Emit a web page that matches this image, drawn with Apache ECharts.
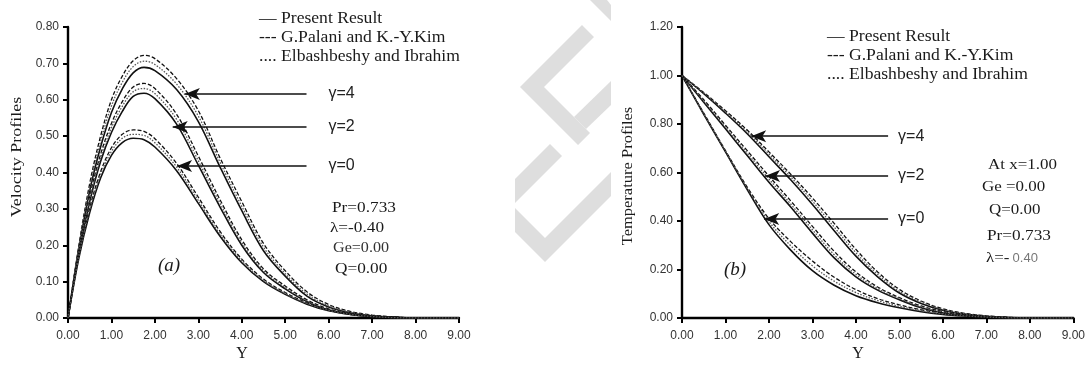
<!DOCTYPE html>
<html>
<head>
<meta charset="utf-8">
<script src="https://cdn.jsdelivr.net/npm/echarts@6/dist/echarts.min.js"></script>
<style>
  html, body { margin: 0; padding: 0; background: #ffffff; }
  #chart { width: 1088px; height: 367px; }
</style>
</head>
<body>
<div id="chart"></div>
<script>
// ---- (a) velocity profiles: Y grid and values per gamma ----
const velX = [0, 0.25, 0.5, 0.75, 1, 1.25, 1.5, 1.75, 2, 2.5, 3, 3.5, 4, 4.5, 5, 5.5, 6, 6.5, 7, 7.5, 8, 9];
const velPresent4 = [0, 0.19, 0.35, 0.47, 0.565, 0.63, 0.674, 0.689, 0.68, 0.628, 0.54, 0.415, 0.295, 0.185, 0.115, 0.06, 0.03, 0.014, 0.006, 0.002, 0, 0];
const velPalani4  = [0, 0.2, 0.37, 0.5, 0.6, 0.665, 0.707, 0.722, 0.713, 0.658, 0.57, 0.44, 0.32, 0.205, 0.13, 0.072, 0.037, 0.018, 0.008, 0.003, 0, 0];
const velElbash4  = [0, 0.195, 0.36, 0.485, 0.583, 0.648, 0.691, 0.706, 0.697, 0.643, 0.555, 0.428, 0.307, 0.195, 0.122, 0.066, 0.033, 0.016, 0.007, 0.002, 0, 0];
const velPresent2 = [0, 0.18, 0.32, 0.43, 0.51, 0.568, 0.609, 0.618, 0.603, 0.533, 0.42, 0.305, 0.2, 0.125, 0.08, 0.045, 0.022, 0.01, 0.004, 0.001, 0, 0];
const velPalani2  = [0, 0.19, 0.335, 0.45, 0.535, 0.595, 0.635, 0.645, 0.631, 0.56, 0.445, 0.325, 0.215, 0.135, 0.088, 0.05, 0.025, 0.012, 0.005, 0.002, 0, 0];
const velElbash2  = [0, 0.185, 0.328, 0.44, 0.523, 0.582, 0.622, 0.631, 0.617, 0.546, 0.432, 0.315, 0.207, 0.13, 0.084, 0.047, 0.023, 0.011, 0.004, 0.001, 0, 0];
const velPresent0 = [0, 0.165, 0.29, 0.385, 0.447, 0.482, 0.494, 0.49, 0.47, 0.405, 0.315, 0.225, 0.152, 0.1, 0.065, 0.038, 0.02, 0.01, 0.004, 0.001, 0, 0];
const velPalani0  = [0, 0.172, 0.303, 0.402, 0.468, 0.505, 0.517, 0.513, 0.493, 0.425, 0.332, 0.238, 0.162, 0.107, 0.07, 0.042, 0.022, 0.011, 0.005, 0.002, 0, 0];
const velElbash0  = [0, 0.168, 0.297, 0.394, 0.458, 0.494, 0.505, 0.502, 0.482, 0.415, 0.323, 0.231, 0.157, 0.103, 0.067, 0.04, 0.021, 0.01, 0.004, 0.001, 0, 0];

// ---- (b) temperature profiles ----
const tempX = [0, 0.5, 1, 1.5, 2, 2.5, 3, 3.5, 4, 4.5, 5, 5.5, 6, 6.5, 7, 7.5, 8, 9];
const tempPresent4 = [1, 0.925, 0.845, 0.76, 0.665, 0.57, 0.468, 0.36, 0.255, 0.17, 0.103, 0.06, 0.032, 0.016, 0.007, 0.002, 0, 0];
const tempPalani4  = [1, 0.93, 0.855, 0.775, 0.685, 0.593, 0.495, 0.39, 0.283, 0.19, 0.118, 0.07, 0.038, 0.019, 0.009, 0.003, 0, 0];
const tempElbash4  = [1, 0.928, 0.85, 0.768, 0.676, 0.582, 0.482, 0.375, 0.269, 0.18, 0.11, 0.065, 0.035, 0.017, 0.008, 0.002, 0, 0];
const tempPresent2 = [1, 0.89, 0.78, 0.67, 0.56, 0.458, 0.35, 0.248, 0.17, 0.115, 0.075, 0.042, 0.022, 0.01, 0.004, 0.001, 0, 0];
const tempPalani2  = [1, 0.9, 0.795, 0.69, 0.585, 0.483, 0.378, 0.275, 0.19, 0.128, 0.084, 0.05, 0.027, 0.013, 0.006, 0.002, 0, 0];
const tempElbash2  = [1, 0.895, 0.788, 0.68, 0.573, 0.47, 0.364, 0.261, 0.18, 0.121, 0.079, 0.046, 0.024, 0.011, 0.005, 0.001, 0, 0];
const tempPresent0 = [1, 0.84, 0.685, 0.53, 0.385, 0.28, 0.195, 0.135, 0.092, 0.063, 0.042, 0.026, 0.015, 0.008, 0.003, 0.001, 0, 0];
const tempPalani0  = [1, 0.845, 0.69, 0.54, 0.41, 0.315, 0.235, 0.168, 0.117, 0.08, 0.054, 0.034, 0.02, 0.011, 0.005, 0.002, 0, 0];
const tempElbash0  = [1, 0.842, 0.688, 0.535, 0.398, 0.298, 0.215, 0.152, 0.105, 0.072, 0.048, 0.03, 0.017, 0.009, 0.004, 0.001, 0, 0];

// axis ranges / tick steps
const xTicks = { min: 0, max: 9, interval: 1 };
const velTicks = { min: 0, max: 0.8, interval: 0.1 };
const tempTicks = { min: 0, max: 1.2, interval: 0.2 };

// gamma call-outs: arrow from the label side to the curve bundle (data coords)
const velCallouts = [
  { name: 'γ=4', from: [5.49, 0.616], to: [2.69, 0.616] },
  { name: 'γ=2', from: [5.49, 0.525], to: [2.41, 0.525] },
  { name: 'γ=0', from: [5.49, 0.418], to: [2.51, 0.418] }
];
const tempCallouts = [
  { name: 'γ=4', from: [4.74, 0.75], to: [1.59, 0.75] },
  { name: 'γ=2', from: [4.74, 0.586], to: [1.91, 0.586] },
  { name: 'γ=0', from: [4.74, 0.408], to: [1.89, 0.408] }
];

const legendLines = ['— Present Result', '--- G.Palani and K.-Y.Kim', '.... Elbashbeshy and Ibrahim'];

const SERIF = '"Liberation Serif", "Times New Roman", serif';
const SANS = '"Liberation Sans", Arial, sans-serif';

const styles = {
  present: { color: '#111', width: 1.6, type: 'solid' },
  palani:  { color: '#111', width: 1.3, type: [4, 2] },
  elbash:  { color: '#555', width: 1.3, type: [1.5, 1.5] }
};

function pairs(xs, ys) { return xs.map((x, i) => [x, ys[i]]); }

function lineSeries(name, xi, xs, ys, st) {
  return {
    name, type: 'line', xAxisIndex: xi, yAxisIndex: xi,
    data: pairs(xs, ys), smooth: 0.35, showSymbol: false, symbol: 'none',
    lineStyle: { color: st.color, width: st.width, type: st.type },
    silent: true, z: 3
  };
}

function callouts(list, dist) {
  return {
    silent: true, symbol: ['none', 'arrow'], symbolSize: [9, 15],
    animation: false,
    lineStyle: { color: '#111', width: 1.6, type: 'solid' },
    label: { show: true, position: 'start', distance: dist, formatter: '{b}',
             fontFamily: SANS, fontSize: 16, color: '#222' },
    data: list.map(c => [{ name: c.name, coord: c.from }, { coord: c.to }])
  };
}

function xAxis(gi) {
  return {
    type: 'value', gridIndex: gi, min: xTicks.min, max: xTicks.max, interval: xTicks.interval,
    axisLine: { show: true, onZero: false, lineStyle: { color: '#000', width: 2.4 } },
    axisTick: { show: true, inside: false, length: 5, lineStyle: { color: '#000', width: 2 } },
    axisLabel: { margin: 12, fontFamily: SANS, fontSize: 12, color: '#333',
                 formatter: v => v.toFixed(2) },
    splitLine: { show: false }
  };
}

function yAxis(gi, t) {
  return {
    type: 'value', gridIndex: gi, min: t.min, max: t.max, interval: t.interval,
    axisLine: { show: true, onZero: false, lineStyle: { color: '#000', width: 2.4 } },
    axisTick: { show: true, inside: false, length: 5, lineStyle: { color: '#000', width: 2 } },
    axisLabel: { margin: 9, fontFamily: SANS, fontSize: 12, color: '#333',
                 formatter: v => v.toFixed(2) },
    splitLine: { show: false }
  };
}

function txt(x, y, text, font, extra, sx) {
  return {
    type: 'text', x, y, silent: true, z: 10, scaleX: sx || 1,
    style: Object.assign({ text, font, fill: '#1a1a1a', align: 'left', verticalAlign: 'middle' }, extra || {})
  };
}

// light grey watermark pieces in the gap between the two panels
function shard(points) {
  return { type: 'polygon', silent: true, z: 0,
           shape: { points },
           style: { fill: '#dedede', stroke: null } };
}

const chart = echarts.init(document.getElementById('chart'), null, { renderer: 'canvas' });

const series = [
  lineSeries('Present γ=4', 0, velX, velPresent4, styles.present),
  lineSeries('Palani γ=4', 0, velX, velPalani4, styles.palani),
  lineSeries('Elbashbeshy γ=4', 0, velX, velElbash4, styles.elbash),
  lineSeries('Present γ=2', 0, velX, velPresent2, styles.present),
  lineSeries('Palani γ=2', 0, velX, velPalani2, styles.palani),
  lineSeries('Elbashbeshy γ=2', 0, velX, velElbash2, styles.elbash),
  lineSeries('Present γ=0', 0, velX, velPresent0, styles.present),
  lineSeries('Palani γ=0', 0, velX, velPalani0, styles.palani),
  lineSeries('Elbashbeshy γ=0', 0, velX, velElbash0, styles.elbash),
  lineSeries('Present γ=4 T', 1, tempX, tempPresent4, styles.present),
  lineSeries('Palani γ=4 T', 1, tempX, tempPalani4, styles.palani),
  lineSeries('Elbashbeshy γ=4 T', 1, tempX, tempElbash4, styles.elbash),
  lineSeries('Present γ=2 T', 1, tempX, tempPresent2, styles.present),
  lineSeries('Palani γ=2 T', 1, tempX, tempPalani2, styles.palani),
  lineSeries('Elbashbeshy γ=2 T', 1, tempX, tempElbash2, styles.elbash),
  lineSeries('Present γ=0 T', 1, tempX, tempPresent0, styles.present),
  lineSeries('Palani γ=0 T', 1, tempX, tempPalani0, styles.palani),
  lineSeries('Elbashbeshy γ=0 T', 1, tempX, tempElbash0, styles.elbash)
];
series[0].markLine = callouts(velCallouts, 22);
series[9].markLine = callouts(tempCallouts, 10);

const legendFont = '16px ' + SERIF;
const paramFont = '15px ' + SERIF;

const velTitle = txt(17, 157, 'Velocity Profiles', '15px ' + SERIF, { align: 'center' }, 1.2);
velTitle.rotation = Math.PI / 2;
const tempTitle = txt(628, 176, 'Temperature Profiles', '15px ' + SERIF, { align: 'center' }, 1.1);
tempTitle.rotation = Math.PI / 2;

const graphic = [
  shard([[590, 0], [607, 0], [611, 5], [611, 21]]),
  shard([[582, 25], [520, 87], [578, 145], [590, 133], [544, 87], [594, 37]]),
  shard([[574, 117], [611, 81], [611, 105], [586, 129]]),
  shard([[550, 144], [562, 156], [515, 203], [515, 179]]),
  shard([[515, 208], [515, 232], [545, 262], [611, 196], [611, 172], [545, 238]]),

  txt(259, 19, legendLines[0], legendFont, null, 1.1),
  txt(259, 38, legendLines[1], legendFont, null, 1.1),
  txt(259, 57, legendLines[2], legendFont, null, 1.1),
  txt(827, 37, legendLines[0], legendFont, null, 1.1),
  txt(827, 56, legendLines[1], legendFont, null, 1.1),
  txt(827, 75, legendLines[2], legendFont, null, 1.1),

  txt(332, 208, 'Pr=0.733', paramFont, null, 1.15),
  txt(330, 228, 'λ=-0.40', paramFont, null, 1.15),
  txt(333, 248, 'Ge=0.00', '14px ' + SERIF, { fill: '#333' }, 1.15),
  txt(335, 269, 'Q=0.00', paramFont, null, 1.15),
  txt(158, 266, '(a)', 'italic 19px ' + SERIF),

  txt(988, 165, 'At x=1.00', paramFont, null, 1.13),
  txt(982, 187, 'Ge =0.00', paramFont, null, 1.13),
  txt(989, 210, 'Q=0.00', paramFont, null, 1.13),
  txt(987, 236, 'Pr=0.733', paramFont, null, 1.15),
  txt(986, 258, 'λ=-', paramFont, null, 1.13),
  txt(1009, 258, ' 0.40', '13px ' + SANS, { fill: '#777' }),
  txt(724, 270, '(b)', 'italic 19px ' + SERIF),

  velTitle,
  tempTitle,
  txt(242, 354, 'Y', '16px ' + SERIF, { align: 'center' }),
  txt(858, 354, 'Y', '16px ' + SERIF, { align: 'center' })
];

chart.setOption({
  animation: false,
  backgroundColor: '#ffffff',
  grid: [
    { left: 68, right: 629, top: 27, bottom: 49, containLabel: false },
    { left: 682, right: 11, top: 27, bottom: 49, containLabel: false }
  ],
  xAxis: [xAxis(0), xAxis(1)],
  yAxis: [yAxis(0, velTicks), yAxis(1, tempTicks)],
  series,
  graphic
});
</script>
</body>
</html>
